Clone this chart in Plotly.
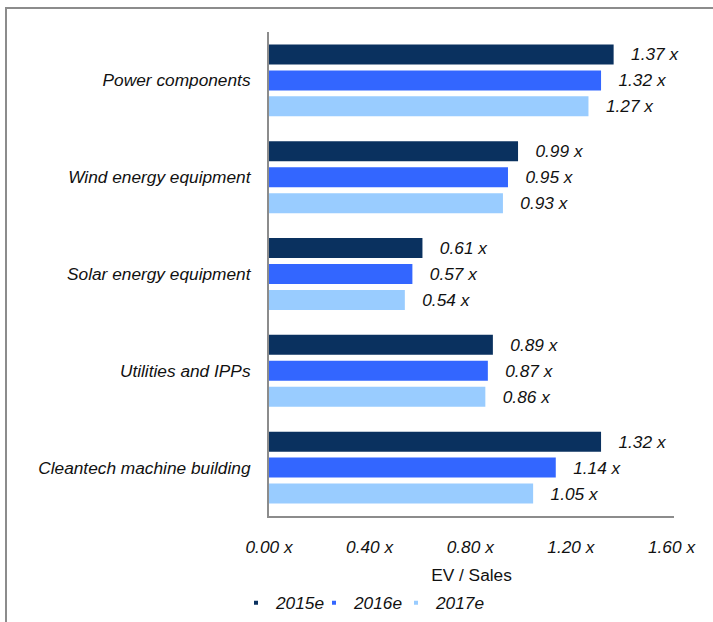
import plotly.graph_objects as go

categories = ["Power components", "Wind energy equipment", "Solar energy equipment",
              "Utilities and IPPs", "Cleantech machine building"]
series_names = ["2015e", "2016e", "2017e"]
v2015 = [1.37, 0.99, 0.61, 0.89, 1.32]
v2016 = [1.32, 0.95, 0.57, 0.87, 1.14]
v2017 = [1.27, 0.93, 0.54, 0.86, 1.05]
tick_vals = [0.0, 0.4, 0.8, 1.2, 1.6]
tick_text = ["0.00 x", "0.40 x", "0.80 x", "1.20 x", "1.60 x"]
colors = ["#0A315F", "#3366FF", "#99CCFF"]

FONT = "Liberation Sans, Arial, sans-serif"
FS = 17.3
W, H = 713, 622
ML, MR, MT, MB = 269, 713 - 674, 32, 622 - 516
PW, PH = W - ML - MR, H - MT - MB
legend_ids = ["legend", "legend2", "legend3"]
legend_px = [236, 314, 396]

fig = go.Figure()
for name, vals, col, lid in zip(series_names, [v2015, v2016, v2017], colors, legend_ids):
    fig.add_trace(go.Bar(
        y=categories, x=vals, orientation="h", name=name,
        marker=dict(color=col, line=dict(width=0)),
        text=[f"{v:.2f} x" for v in vals],
        texttemplate="\u00a0\u00a0\u00a0%{text}",
        textposition="outside", cliponaxis=False, constraintext="none",
        textfont=dict(family=FONT, size=FS, color="#111111", style="italic"),
        showlegend=False,
    ))
    fig.add_trace(go.Scatter(
        x=[None], y=[None], mode="markers", name=name, legend=lid,
        marker=dict(symbol="square", size=4, color=col),
        showlegend=True,
    ))

legend_common = dict(orientation="h", xref="container", yref="container",
                     xanchor="left", yanchor="middle", y=(H - 603) / H,
                     font=dict(family=FONT, size=FS, style="italic", color="#111111"),
                     bgcolor="rgba(0,0,0,0)", itemclick=False, borderwidth=0)

fig.update_layout(
    width=W, height=H,
    margin=dict(l=ML, r=MR, t=MT, b=MB, autoexpand=False),
    paper_bgcolor="white", plot_bgcolor="white",
    barmode="group", bargap=0.196, bargroupgap=0.23,
    font=dict(family=FONT, size=FS, color="#111111"),
    xaxis=dict(range=[0, 1.61], tickvals=tick_vals, ticktext=tick_text,
               showgrid=False, zeroline=False, showline=True, linecolor="#8c8c8c", linewidth=2,
               ticks="", ticklabelstandoff=14, automargin=False,
               tickfont=dict(family=FONT, size=FS, style="italic", color="#111111"),
               title=dict(text="EV / Sales", standoff=16,
                          font=dict(family=FONT, size=FS, color="#111111"))),
    yaxis=dict(autorange="reversed", showgrid=False, zeroline=False, showline=True,
               linecolor="#8c8c8c", linewidth=2, ticks="", ticklabelstandoff=13,
               automargin=False,
               tickfont=dict(family=FONT, size=FS, style="italic", color="#111111")),
    legend=dict(legend_common, x=legend_px[0] / W),
    legend2=dict(legend_common, x=legend_px[1] / W),
    legend3=dict(legend_common, x=legend_px[2] / W),
    shapes=[dict(type="rect", xref="paper", yref="paper",
                 x0=(6 - ML) / PW, x1=1.3, y0=-0.5, y1=1 + (MT - 8) / PH,
                 line=dict(color="#8c8c8c", width=2), fillcolor="rgba(0,0,0,0)", layer="below")],
)

fig.write_html("out.html")
